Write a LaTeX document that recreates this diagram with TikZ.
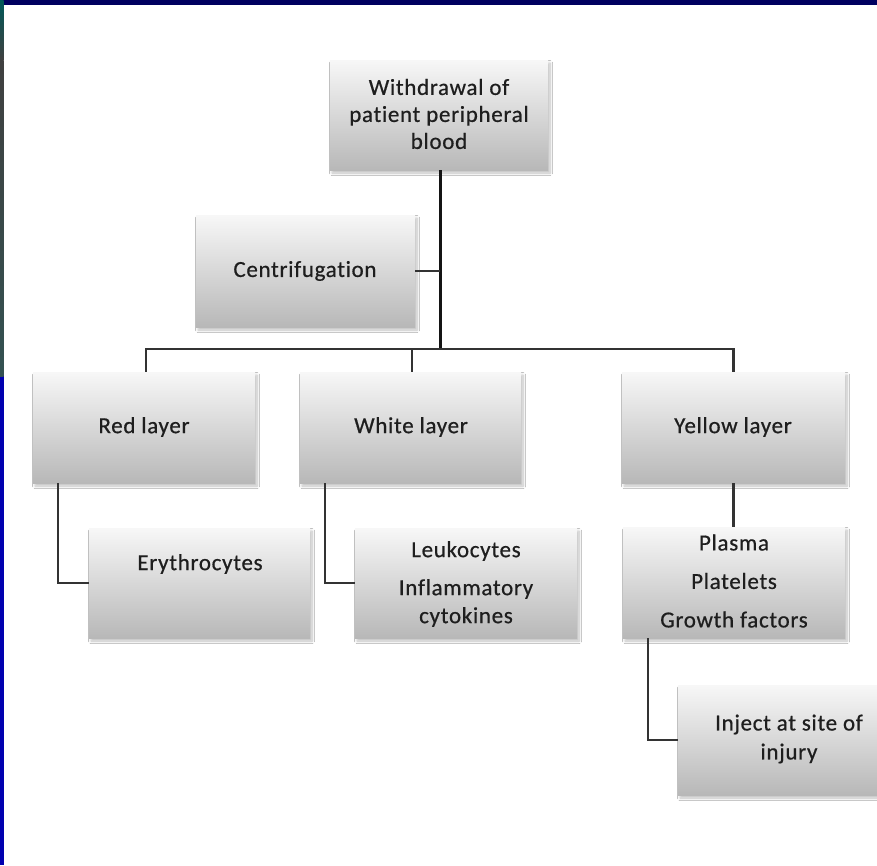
\documentclass[tikz,border=0pt]{standalone}
\usepackage{fontspec}
\setmainfont{Carlito}[LetterSpace=3,FakeBold=0.6,Ligatures=NoCommon]
\usetikzlibrary{shadows.blur}
\definecolor{navy}{HTML}{000060}
\definecolor{slideblue}{HTML}{0000B0}
\definecolor{txtgray}{HTML}{1E1E1E}
\definecolor{linegray}{HTML}{333333}
\tikzset{
  box/.style={rectangle, draw=none, minimum width=220pt, minimum height=110pt,
    top color=white!97!black, bottom color=black!28,
    blur shadow={shadow blur steps=8, shadow xshift=2pt, shadow yshift=-3pt, shadow opacity=25, shadow blur radius=2.5pt}},
  txt/.style={text=txtgray, font=\fontsize{23}{27}\selectfont, align=center, inner sep=0pt},
  link/.style={draw=linegray, line width=2.2pt},
  trunk/.style={draw=black!92, line width=3pt}
}
\begin{document}
\begin{tikzpicture}[x=1pt,y=-1pt]
\clip (0,0) rectangle (877,865);
\fill[white] (0,0) rectangle (877,865);
% slide frame
\fill[navy] (0,0) rectangle (877,5);
\fill[slideblue] (0,376) rectangle (3.5,865);
\shade[top color=teal!70!black, bottom color=black!75] (0,0) rectangle (3.5,60);
\shade[top color=black!75, bottom color=teal!30!black!80] (0,60) rectangle (3.5,376);

% boxes
\node[box, minimum width=218pt] (wd) at (439,115) {};
\node[box, minimum width=219pt, minimum height=112pt] (cf) at (305.5,271) {};
\node[box, minimum width=222pt, minimum height=111pt] (red) at (144,427.5) {};
\node[box, minimum width=221pt, minimum height=111pt] (white) at (410.5,427.5) {};
\node[box, minimum width=223pt, minimum height=111pt] (yellow) at (733.5,427.5) {};
\node[box, minimum width=221pt] (ery) at (199.5,583) {};
\node[box, minimum width=222pt] (leu) at (466,583) {};
\node[box, minimum width=222pt, minimum height=111pt] (pla) at (734,582.5) {};
\node[box, minimum width=222pt] (inj) at (789,740) {};

% texts
\node[txt] (wdt) at (439,114) {Withdrawal of\\patient peripheral\\blood};
\node[txt] (cft) at (305,271) {Centrifugation};
\node[txt] (redt) at (144,427) {Red layer};
\node[txt] (whitet) at (411,427) {White layer};
\node[txt] (yellowt) at (733,427) {Yellow layer};
\node[txt] (eryt) at (200,564) {Erythrocytes};
\node[txt, font=\fontsize{23}{28}\selectfont] (leut) at (466,584) {Leukocytes\\[10pt]Inflammatory\\cytokines};
\node[txt, font=\fontsize{23}{38.5}\selectfont] (plat) at (734,581) {Plasma\\Platelets\\Growth factors};
\node[txt, font=\fontsize{23}{29}\selectfont] (injt) at (789,739) {Inject at site of\\injury};

% connectors
\coordinate (j) at (440,349);
\coordinate (cfj) at (440,271);
\draw[trunk] (wd.south -| j) -- (j);
\draw[link] (cf.east) -- (cfj);
\draw[link] (j) -- (733.5,349) -- (yellow.north);
\draw[link] (j) -- (146,349) -- (146,372);
\draw[link] (412,349) -- (412,372);
\draw[link] (58,483) |- (ery.west);
\draw[link] (325,483) |- (leu.west);
\draw[link] (733.5,483) -- (pla.north -| 733.5,483);
\draw[link] (648,638) |- (inj.west);
\end{tikzpicture}
\end{document}
